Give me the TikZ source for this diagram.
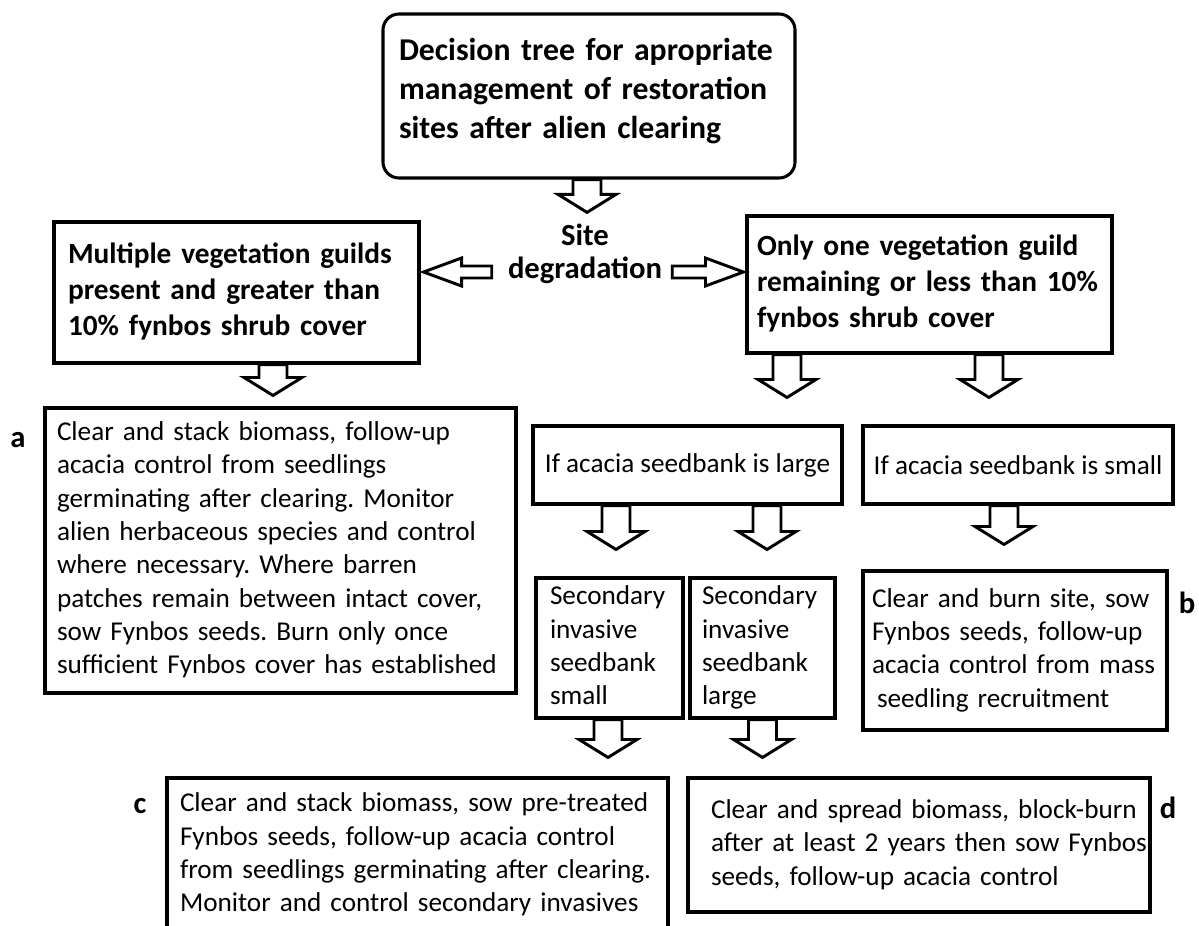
\documentclass[tikz,border=0pt]{standalone}
\usepackage{fontspec}
\setmainfont{Carlito}
\frenchspacing
\usetikzlibrary{calc}
\newcommand{\txtfont}{\fontsize{20.4pt}{25pt}\selectfont}
\newcommand{\hdfont}{\fontsize{22pt}{26.8pt}\selectfont\bfseries}
\newcommand{\ttlfont}{\fontsize{23.8pt}{29.2pt}\selectfont\bfseries}
% lines kept as they are printed, no rewrapping; optional extra room above
\newcommand{\rows}[2][0pt]{\begin{tabular}{@{}l@{}}\rule{0pt}{\dimexpr0.7\baselineskip+#1\relax}#2\end{tabular}}
% hollow block arrow from (ft) to (fp): shaft half width, head half width, head length
\newcommand{\fatarrow}[3]{%
  \coordinate (fb) at ($(fp)!#3!(ft)$);
  \draw[fatarrow] ($(ft)!#1!90:(fp)$) -- ($(fb)!#1!90:(fp)$) -- ($(fb)!#2!90:(fp)$) -- (fp)
    -- ($(fb)!#2!-90:(fp)$) -- ($(fb)!#1!-90:(fp)$) -- ($(ft)!#1!-90:(fp)$) -- cycle;}
% tail point, target node, gap above the target
\newcommand{\downfat}[3]{%
  \coordinate (ft) at (#1);
  \coordinate (fp) at ($(ft |- #2.north)+(0,-#3)$);
  \fatarrow{10.5pt}{21.75pt}{13.5pt}}
% tail point, target anchor, shift of the tip
\newcommand{\sidefat}[3]{%
  \coordinate (ft) at (#1);
  \coordinate (fp) at ($(ft -| #2)+(#3)$);
  \fatarrow{4.5pt}{10.5pt}{28.5pt}}

\begin{document}
\begin{tikzpicture}[x=0.75pt,y=-0.75pt,
  box/.style={draw, line width=2.3pt, rectangle, inner ysep=0pt, align=left, font=\txtfont},
  fatarrow/.style={draw, line width=2.2pt, line join=miter},
  tag/.style={font=\fontsize{23pt}{27pt}\selectfont\bfseries, inner sep=0pt}]
\useasboundingbox (0,0) rectangle (1199,925);
\clip (0,0) rectangle (1199,925);

\node[box, rounded corners=12pt, font=\ttlfont, text width=285pt, inner xsep=12pt, minimum height=123pt] (title) at (589,96)
  {\rows{Decision tree for apropriate\\management of restoration\\sites after alien clearing\rule[-15pt]{0pt}{0pt}}};
\node[font=\fontsize{23pt}{24.75pt}\selectfont\bfseries, align=center, inner sep=0pt] (site) at (585,253.5) {Site\\degradation};

\node[box, font=\hdfont, text width=252.75pt, inner xsep=10.5pt, minimum height=105.75pt] (multi) at (236.5,292.5)
  {\rows{Multiple vegetation guilds\\present and greater than\\10\% fynbos shrub cover}};
\node[box, font=\hdfont, text width=258.75pt, inner xsep=7.5pt, minimum height=102.75pt] (only) at (929.5,284.5)
  {\rows{Only one vegetation guild\\remaining or less than 10\%\\fynbos shrub cover}};

\node[box, text width=335.25pt, inner xsep=9pt, minimum height=213.75pt] (boxa) at (280.5,550.5)
  {\rows[6pt]{Clear and stack biomass, follow-up\\acacia control from seedlings\\germinating after clearing. Monitor\\alien herbaceous species and control\\where necessary. Where barren\\patches remain between intact cover,\\sow Fynbos seeds. Burn only once\\sufficient Fynbos cover has established}};
\node[box, minimum width=231.75pt, minimum height=58.5pt] (large) at (687.5,465) {If acacia seedbank is large};
\node[box, minimum width=232.5pt, minimum height=58.5pt] (small) at (1018,465) {If acacia seedbank is small};

\node[box, text width=89.25pt, inner xsep=10.5pt, minimum height=105pt] (secs) at (609.5,648)
  {\rows[7.5pt]{Secondary\\invasive\\seedbank\\small}};
\node[box, text width=90.75pt, inner xsep=9pt, minimum height=105pt] (secl) at (762.5,648)
  {\rows[7.5pt]{Secondary\\invasive\\seedbank\\large}};
\node[box, text width=214.5pt, inner xsep=6.75pt, minimum height=119.25pt] (boxb) at (1015,650.5)
  {\rows[5pt]{Clear and burn site, sow\\Fynbos seeds, follow-up\\acacia control from mass\\\hspace*{3.75pt}seedling recruitment}};

\node[box, text width=356.25pt, inner xsep=9.75pt, minimum height=115.5pt] (boxc) at (417.5,855)
  {\rows{Clear and stack biomass, sow pre-treated\\Fynbos seeds, follow-up acacia control\\from seedlings germinating after clearing.\\Monitor and control secondary invasives}};
\node[box, text width=328.5pt, inner xsep=9pt, minimum height=100.5pt] (boxd) at (919,845)
  {\hspace*{8.25pt}\rows{Clear and spread biomass, block-burn\\after at least 2 years then sow Fynbos\\seeds, follow-up acacia control}};

\node[tag] (taga) at (18,440) {a};
\node[tag] (tagb) at (1187,603) {b};
\node[tag] (tagc) at (140,806) {c};
\node[tag] (tagd) at (1168,808) {d};

\downfat{$(title.south)+(-2,0)$}{site}{11}
\sidefat{$(site.west)+(-16,18.5)$}{multi.east}{3,0}
\sidefat{$(site.east)+(10,18.5)$}{only.west}{-2,0}
\downfat{$(multi.south)+(36.5,0)$}{boxa}{11}
\downfat{$(only.south)+(-142.5,0)$}{large}{27}
\downfat{$(only.south)+(59.5,0)$}{small}{27}
\downfat{$(large.south)+(-71.5,0)$}{secs}{27}
\downfat{$(large.south)+(79.5,0)$}{secl}{27}
\downfat{$(small.south)+(-14,0)$}{boxb}{25}
\downfat{$(secs.south)+(-1.5,0)$}{boxc}{19}
\downfat{secl.south}{boxd}{19}
\end{tikzpicture}
\end{document}
